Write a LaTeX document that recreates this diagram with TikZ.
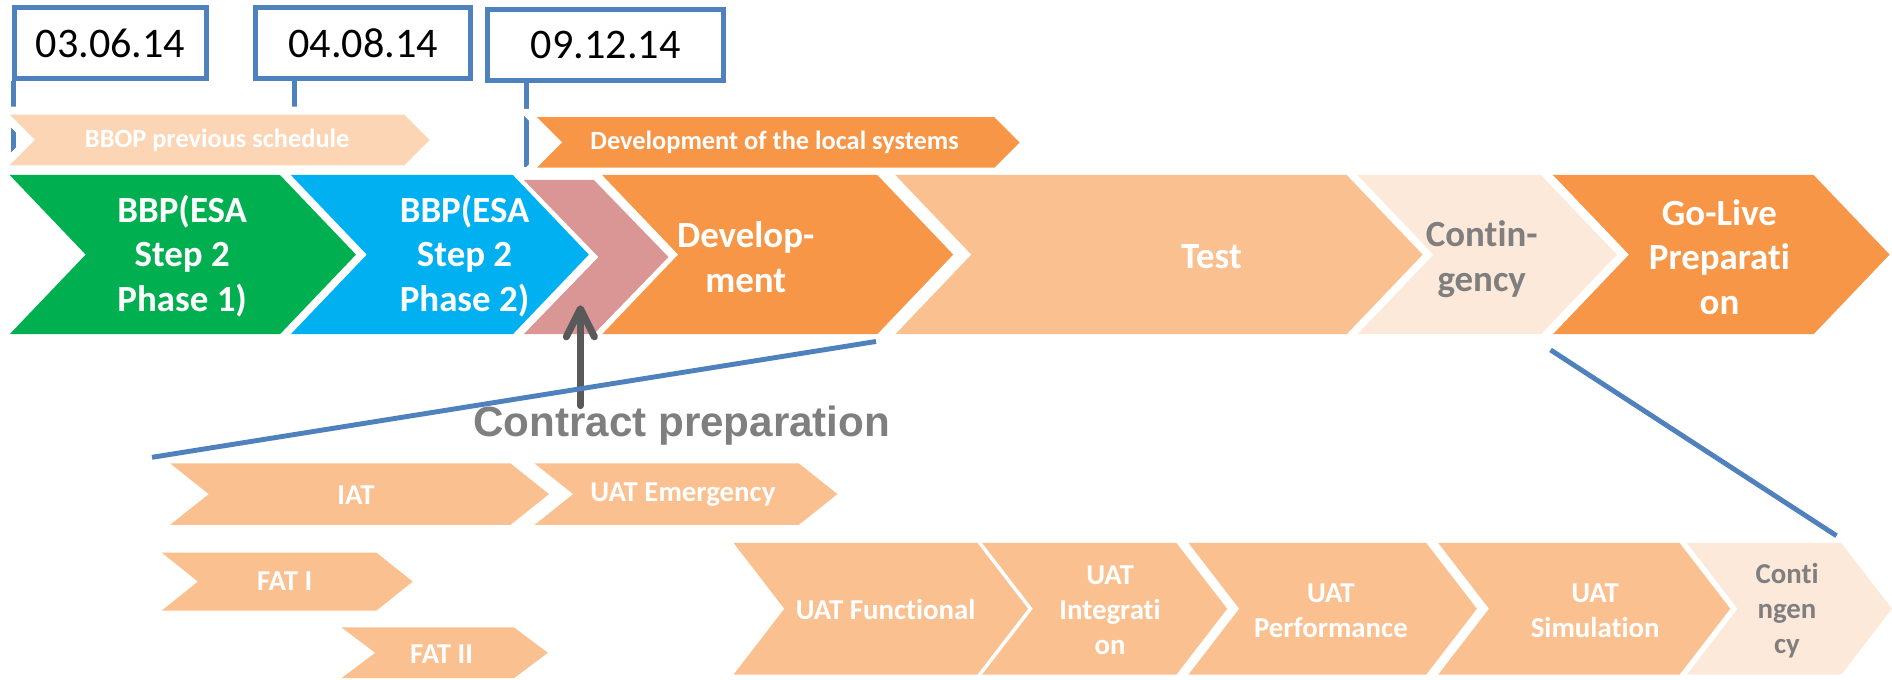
\documentclass[tikz,border=0pt]{standalone}
\usepackage{fontspec}
\setmainfont[Ligatures=NoCommon]{Carlito}
\newfontfamily\arialfont{Liberation Sans}
\usetikzlibrary{arrows.meta}

\definecolor{lineblue}{HTML}{4F81BD}
\definecolor{bbpgreen}{HTML}{00B050}
\definecolor{bbpblue}{HTML}{00B0F0}
\definecolor{rose}{HTML}{D99694}
\definecolor{orange}{HTML}{F79646}
\definecolor{lightorange}{HTML}{FAC090}
\definecolor{peach}{HTML}{FCD5B5}
\definecolor{palepeach}{HTML}{FDE9D9}
\definecolor{textgray}{HTML}{7F7F7F}
\definecolor{arrowgray}{HTML}{595959}

% left, right, top, bottom, depth, style
\newcommand{\chevron}[6]{%
  \path[#6] (#1,#3) -- ({#2-#5},#3) -- (#2,{(#3+#4)/2}) -- ({#2-#5},#4)
    -- (#1,#4) -- ({#1+#5},{(#3+#4)/2}) -- cycle;}

\begin{document}
\begin{tikzpicture}[x=0.12066mm,y=-0.12066mm]
\tikzstyle{datebox}=[draw=lineblue,line width=1.4pt,fill=white,inner sep=0pt,
        minimum height=7.1mm,font=\fontsize{12}{14}\selectfont]
\tikzstyle{stem}=[draw=lineblue,line width=1.4pt]
\tikzstyle{zoomline}=[draw=lineblue,line width=1.4pt]
\tikzstyle{halo}=[preaction={draw=white,line width=4.6pt}]
\tikzstyle{phasetext}=[text=white,align=center,inner sep=0pt,
        font=\bfseries\fontsize{10.5}{12.7}\selectfont]
\tikzstyle{bartext}=[text=white,inner sep=0pt,font=\bfseries\fontsize{7.5}{9}\selectfont]
\tikzstyle{subtext}=[text=white,align=center,inner sep=0pt,
        font=\bfseries\fontsize{8.2}{10}\selectfont]
\tikzstyle{pointer}=[draw=arrowgray,line width=2pt,line cap=round,
        -{Straight Barb[length=2.8mm,width=2.8mm,round]}]
\useasboundingbox (0,0) rectangle (1568,563);
%dates
\node[datebox,minimum width=19.2mm] (d1) at (91.5,36) {03.06.14};
\node[datebox,minimum width=21.5mm] (d2) at (301,36) {04.08.14};
\node[datebox,minimum width=23.6mm] (d3) at (502,37.5) {09.12.14};
\coordinate (s1) at (11,136);
\coordinate (s2) at (244,136);
\coordinate (s3) at (436,138);
\draw[stem] (d1.south -| s1) -- (s1);
\draw[stem] (d2.south -| s2) -- (s2);
\draw[stem] (d3.south -| s3) -- (s3);
%bars
\chevron{8}{356}{95}{137}{21}{halo,fill=peach}
\chevron{445}{845}{97}{139}{21}{halo,fill=orange}
\node[bartext] (bbop) at (180,116) {BBOP previous schedule};
\node[bartext] (devsys) at (642,118) {Development of the local systems};
%phases
\chevron{8}{295}{145}{277}{63}{fill=bbpgreen}
\chevron{241}{488}{145}{277}{63}{fill=bbpblue}
\chevron{434}{554}{149}{277}{62}{fill=rose}
\chevron{499}{790}{145}{277}{63}{fill=orange}
\chevron{742}{1179}{145}{277}{63}{fill=lightorange}
\chevron{1125}{1340}{145}{277}{63}{fill=palepeach}
\chevron{1287}{1566}{145}{277}{63}{fill=orange}
\node[phasetext] (step1) at (151,212) {BBP(ESA\\Step 2\\Phase 1)};
\node[phasetext] (step2) at (385,212) {BBP(ESA\\Step 2\\Phase 2)};
\node[phasetext] (devel) at (618,213) {Develop-\\ment};
\node[phasetext] (test) at (1004,213) {Test};
\node[phasetext,text=textgray] (contin) at (1228,215) {Contin-\\gency};
\node[phasetext] (golive) at (1425,213) {Go-Live\\Preparati\\on};
%contract
\node[text=textgray,inner sep=0pt,font=\arialfont\bfseries\fontsize{12}{14}\selectfont]
        (contract) at (565,353) {Contract preparation};
\coordinate (ctip) at (481,253);
\draw[pointer] (contract.north -| ctip) -- (ctip);
%zoom lines
\coordinate (zdev) at (726,283);
\coordinate (zsub) at (126,379);
\coordinate (zgo) at (1285,290);
\coordinate (zuat) at (1522,444);
\draw[zoomline] (zdev) -- (zsub);
\draw[zoomline] (zgo) -- (zuat);
%sub phases
\chevron{141}{455}{384}{435}{32}{fill=lightorange}
\chevron{443}{694}{384}{435}{32}{fill=lightorange}
\chevron{134}{342}{458}{506}{30}{fill=lightorange}
\chevron{283}{454}{520}{562}{28}{fill=lightorange}
\node[subtext] (iat) at (295,410) {IAT};
\node[subtext] (uatem) at (566,410) {UAT Emergency};
\node[subtext] (fat1) at (236,482) {FAT I};
\node[subtext] (fat2) at (366,542) {FAT II};
%uat
\chevron{608}{852}{450}{559}{42}{fill=lightorange}
\chevron{814}{1017}{450}{559}{42}{fill=lightorange}
\chevron{985}{1224}{450}{559}{42}{fill=lightorange}
\chevron{1192}{1434}{450}{559}{42}{fill=lightorange}
\chevron{1398}{1568}{450}{559}{42}{fill=palepeach}
\node[subtext] (uatf) at (734,505) {UAT Functional};
\node[subtext] (uati) at (920,506) {UAT\\Integrati\\on};
\node[subtext] (uatp) at (1103,506) {UAT\\Performance};
\node[subtext] (uats) at (1322,506) {UAT\\Simulation};
\node[subtext,text=textgray] (cont2) at (1481,506) {Conti\\ngen\\cy};
\end{tikzpicture}
\end{document}
